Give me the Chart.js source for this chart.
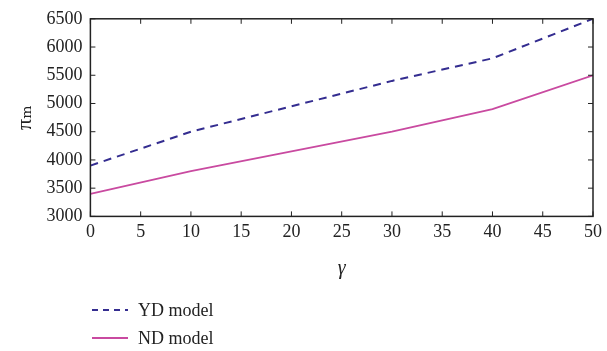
<!DOCTYPE html>
<html>
<head>
<meta charset="utf-8">
<script src="https://cdn.jsdelivr.net/npm/chart.js@4"></script>
<style>
  body { margin: 0; background: #fff; }
  #wrap { position: relative; width: 607px; height: 351px; }
  #legend { position: absolute; left: 92px; top: 296px; font-family: "Liberation Serif", "DejaVu Serif", serif; font-size: 18px; color: #222; }
  #legend div { height: 28px; display: flex; align-items: center; }
  #legend svg { margin-right: 10px; }
</style>
</head>
<body>
<div id="wrap">
  <canvas id="chart" width="607" height="351"></canvas>
  <div id="legend"></div>
</div>
<script>
var GAMMA = [0, 10, 20, 30, 40, 50];
var YD_MODEL = [3900, 4500, 4950, 5400, 5800, 6500];
var ND_MODEL = [3400, 3800, 4150, 4500, 4900, 5500];
var SERIES_NAMES = ['YD model', 'ND model'];

var FONT = '"Liberation Serif", "DejaVu Serif", serif';

function toPoints(xs, ys) {
    return xs.map(function (x, i) { return {x: x, y: ys[i]}; });
}

// box frame with inward ticks on all four sides
var frame = {
    id: 'frame',
    afterDraw: function (chart) {
        var ctx = chart.ctx, a = chart.chartArea;
        var xs = chart.scales.x, ys = chart.scales.y;
        ctx.save();
        ctx.strokeStyle = '#222';
        ctx.lineWidth = 1.5;
        ctx.strokeRect(a.left, a.top, a.right - a.left, a.bottom - a.top);
        ctx.lineWidth = 1;
        ctx.beginPath();
        xs.ticks.forEach(function (t) {
            var p = xs.getPixelForValue(t.value);
            ctx.moveTo(p, a.bottom); ctx.lineTo(p, a.bottom - 5);
            ctx.moveTo(p, a.top); ctx.lineTo(p, a.top + 5);
        });
        ys.ticks.forEach(function (t) {
            var p = ys.getPixelForValue(t.value);
            ctx.moveTo(a.left, p); ctx.lineTo(a.left + 5, p);
            ctx.moveTo(a.right, p); ctx.lineTo(a.right - 5, p);
        });
        ctx.stroke();
        ctx.restore();
    }
};

var chart = new Chart(document.getElementById('chart'), {
    type: 'line',
    data: {
        datasets: [
            {
                label: SERIES_NAMES[0],
                data: toPoints(GAMMA, YD_MODEL),
                borderColor: '#342d90',
                borderWidth: 2,
                borderDash: [8, 6],
                pointRadius: 0,
                fill: false
            },
            {
                label: SERIES_NAMES[1],
                data: toPoints(GAMMA, ND_MODEL),
                borderColor: '#c94aa0',
                borderWidth: 1.8,
                pointRadius: 0,
                fill: false
            }
        ]
    },
    options: {
        responsive: false,
        animation: false,
        layout: {padding: {top: 14, right: 13, bottom: 66, left: 4}},
        plugins: {legend: {display: false}, tooltip: {enabled: false}},
        scales: {
            x: {
                type: 'linear',
                min: 0, max: 50,
                ticks: {stepSize: 5, color: '#222', font: {family: FONT, size: 18}, padding: 5, maxRotation: 0},
                grid: {drawOnChartArea: false, drawTicks: false},
                border: {display: false},
                title: {display: true, text: 'γ', color: '#222', font: {family: FONT, size: 20, style: 'italic'}, padding: {top: 9}}
            },
            y: {
                min: 3000, max: 6500,
                ticks: {stepSize: 500, color: '#222', font: {family: FONT, size: 18}, padding: 8,
                        callback: function (v) { return String(v); }},
                grid: {drawOnChartArea: false, drawTicks: false},
                border: {display: false},
                title: {display: true, text: 'πₘ', color: '#222', font: {family: FONT, size: 22}, padding: {top: 8, bottom: 0}}
            }
        }
    },
    plugins: [frame]
});

// legend stacked under the chart, built from the datasets
var legend = document.getElementById('legend');
chart.data.datasets.forEach(function (ds) {
    var row = document.createElement('div');
    var dash = ds.borderDash ? ' stroke-dasharray="6 5"' : '';
    row.innerHTML = '<svg width="36" height="4"><line x1="0" y1="2" x2="36" y2="2" stroke="' +
        ds.borderColor + '" stroke-width="2"' + dash + '/></svg><span>' + ds.label + '</span>';
    legend.appendChild(row);
});
</script>
</body>
</html>
